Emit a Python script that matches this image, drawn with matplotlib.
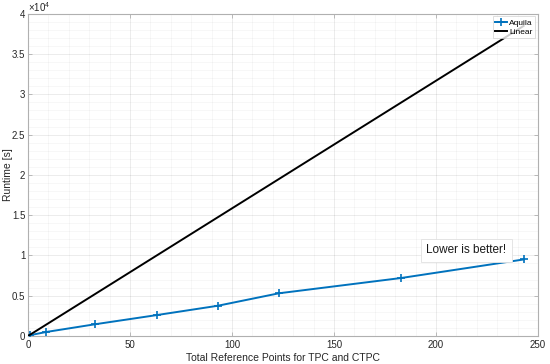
import matplotlib
matplotlib.use("Agg")
import matplotlib.pyplot as plt
from matplotlib.ticker import MultipleLocator, FuncFormatter

# Data
ref_points = [1, 9, 33, 63, 93, 123, 183, 243]
aquila_runtime = [100, 500, 1460, 2590, 3750, 5300, 7200, 9500]
linear_x = [0, 243]
linear_runtime = [0, 38500]

x_ticks = [0, 50, 100, 150, 200, 250]
y_ticks = [0, 5000, 10000, 15000, 20000, 25000, 30000, 35000, 40000]

plt.rcParams['font.family'] = ['Liberation Sans', 'DejaVu Sans']
plt.rcParams['mathtext.fontset'] = 'custom'
plt.rcParams['mathtext.rm'] = 'Liberation Sans'

fig = plt.figure(figsize=(5.5, 3.64), dpi=100)
ax = fig.add_axes([0.051, 0.077, 0.927, 0.885])

blue = '#0072BD'
ax.plot(ref_points, aquila_runtime, color=blue, lw=1.4, marker='+', ms=6, mew=1.2, label='Aquila', zorder=3)
ax.plot(linear_x, linear_runtime, color='black', lw=1.4, label='Linear', zorder=3)

ax.set_xlim(0, 250)
ax.set_ylim(0, 40000)
ax.set_xticks(x_ticks)
ax.set_yticks(y_ticks)
ax.xaxis.set_minor_locator(MultipleLocator(10))
ax.yaxis.set_minor_locator(MultipleLocator(1000))
ax.yaxis.set_major_formatter(FuncFormatter(lambda v, p: ('%g' % (v / 1e4))))

ax.grid(True, which='major', color='#262626', alpha=0.12, lw=0.5)
ax.grid(True, which='minor', color='#262626', alpha=0.05, lw=0.5)
ax.set_axisbelow(True)

for s in ax.spines.values():
    s.set_color('#b0b0b0')
    s.set_linewidth(0.8)

ax.tick_params(which='both', direction='in', top=True, right=True, colors='#b0b0b0',
               labelcolor='#262626', labelsize=7, length=3, width=0.6)
ax.tick_params(which='minor', length=0)
ax.tick_params(axis='x', pad=3)
ax.tick_params(axis='y', pad=2)

ax.set_xlabel('Total Reference Points for TPC and CTPC', fontsize=7.5, color='#262626')
ax.xaxis.set_label_coords(0.5, -0.052)
ax.set_ylabel('Runtime [s]', fontsize=7.5, color='#262626')
ax.yaxis.set_label_coords(-0.03, 0.5)

ax.text(0.0, 1.0, r'$\times10^4$', transform=ax.transAxes, fontsize=7, color='#262626',
        ha='left', va='bottom')

leg = ax.legend(loc='upper right', fontsize=6, frameon=True, fancybox=False,
                borderpad=0.3, handlelength=1.4, handletextpad=0.3, labelspacing=0.15,
                borderaxespad=0.3)
leg.get_frame().set_edgecolor('#d0d0d0')
leg.get_frame().set_linewidth(0.6)

ax.text(215, 10620, 'Lower is better!', fontsize=8.5, color='#1a1a1a', ha='center', va='center',
        bbox=dict(boxstyle='square,pad=0.5', facecolor='white', edgecolor='#e0e0e0', lw=0.6))

fig.savefig('out.png', dpi=100, facecolor='white')
